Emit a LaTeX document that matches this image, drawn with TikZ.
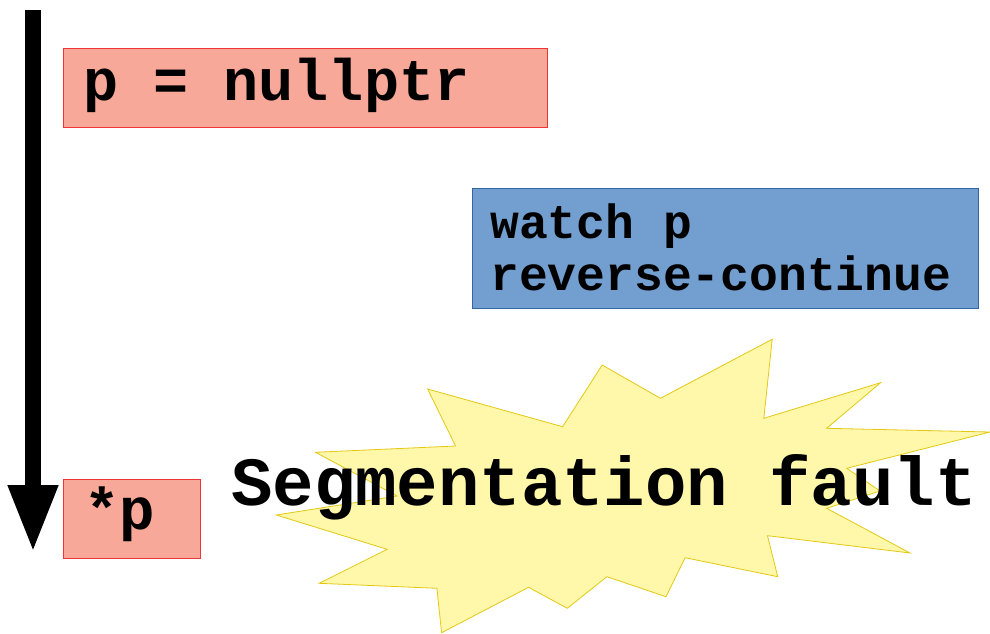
\documentclass[tikz,border=0pt]{standalone}
\usepackage{fontspec}
\usetikzlibrary{arrows.meta}
\newfontfamily\codefont{Liberation Mono}

\definecolor{stmtfill}{RGB}{248,168,152}
\definecolor{stmtdraw}{RGB}{238,52,52}
\definecolor{cmdfill}{RGB}{114,159,207}
\definecolor{cmddraw}{RGB}{52,101,164}
\definecolor{faultfill}{RGB}{255,248,170}
\definecolor{faultdraw}{RGB}{228,200,20}

\tikzset{
  stmtbox/.style={draw=stmtdraw,fill=stmtfill,line width=.8pt,anchor=north west,
    minimum height=79pt,inner sep=0pt},
  cmdbox/.style={draw=cmddraw,fill=cmdfill,line width=.8pt,anchor=north west,
    minimum height=120pt,inner sep=0pt},
  code/.style={anchor=base west,inner sep=0pt,font=\codefont\bfseries}
}

\begin{document}
\begin{tikzpicture}[x=1pt,y=1pt]
\path[use as bounding box] (0,0) rectangle (990,633);
% the crash burst sits behind everything else
\draw[faultdraw,fill=faultfill,line width=.8pt,line join=miter]
  (427.6,244) -- (562.6,206.3) -- (602.2,268) -- (660.4,234.7)
  -- (772.2,293.7) -- (763.8,214.7) -- (880.6,250.3) -- (826.6,204.7)
  -- (990,201) -- (846.7,164.7) -- (880,142) -- (826.7,124.7)
  -- (910,80) -- (767.5,97.3) -- (777.7,56.3) -- (685.1,75.3)
  -- (666,36.3) -- (606.9,56.3) -- (567.3,24.7) -- (528.6,45.7)
  -- (441.6,0.3) -- (436.9,44.7) -- (319.1,49.7) -- (387.1,83.7)
  -- (276.3,118) -- (397,137) -- (315.5,180.7) -- (455.6,187) -- cycle;
% execution runs downwards
\coordinate (tstart) at (33,623);
\coordinate (tend) at (33,80);
\draw[line width=16pt,-{Triangle[width=46pt,length=68pt]}] (tstart) -- (tend);
\node[stmtbox,minimum width=484pt] (assign) at (63,585) {};
\node[code,font=\codefont\bfseries\fontsize{58.5}{64}\selectfont] (assigntxt) at (83,532) {p = nullptr};
\node[stmtbox,minimum width=137pt] (deref) at (63,154) {};
\node[code,font=\codefont\bfseries\fontsize{59}{64}\selectfont] (dereftxt) at (84,104) {*p};
\node[cmdbox,minimum width=506pt] (gdbcmds) at (472,445) {};
\node[code,font=\codefont\bfseries\fontsize{48}{52}\selectfont] (watchtxt) at (490,394.7) {watch p};
\node[code,font=\codefont\bfseries\fontsize{48}{52}\selectfont] (revtxt) at (490,343) {reverse-continue};
\node[code,font=\codefont\bfseries\fontsize{69}{76}\selectfont] (segv) at (231,128) {Segmentation fault};
\end{tikzpicture}
\end{document}
